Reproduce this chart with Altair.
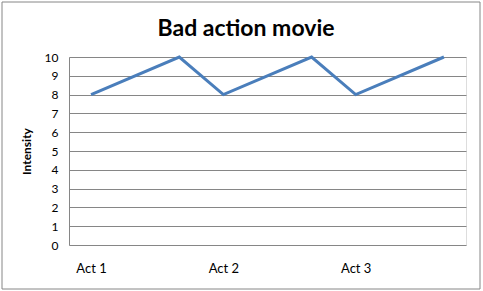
import altair as alt
import pandas as pd

# Data
positions = [0, 2, 3, 5, 6, 8]        # category slot (9 slots across the axis)
intensity = [8, 10, 8, 10, 8, 10]
tick_positions = [0, 3, 6]
tick_labels = ["Act 1", "Act 2", "Act 3"]
y_ticks = list(range(0, 11))
chart_title = "Bad action movie"

df = pd.DataFrame({"slot": positions, "Intensity": intensity})

label_map = "{" + ",".join(f"'{p}':'{l}'" for p, l in zip(tick_positions, tick_labels)) + "}"

FONT = "Lato"
GRID = "#868686"

line = alt.Chart(df).mark_line(color="#4A7EBB", strokeWidth=3, strokeJoin="miter").encode(
    x=alt.X(
        "slot:Q",
        scale=alt.Scale(domain=[-0.5, 8.5], nice=False, zero=False),
        axis=alt.Axis(
            values=tick_positions,
            labelExpr=f"{label_map}[datum.value]",
            grid=False, ticks=False, domain=False,
            labelPadding=17, labelFontSize=13, labelFont=FONT,
            labelColor="#000000", title=None,
        ),
    ),
    y=alt.Y(
        "Intensity:Q",
        scale=alt.Scale(domain=[0, 10], nice=False),
        axis=alt.Axis(
            values=y_ticks, grid=True, gridColor=GRID, gridWidth=1,
            ticks=False, domain=True, domainColor=GRID, domainWidth=1,
            labelPadding=11, labelFontSize=12, labelFont=FONT, labelColor="#000000",
            title="Intensity", titleFont=FONT, titleFontSize=12, titleFontWeight="bold",
            titleColor="#000000", titleX=-36, titleY=94,
        ),
    ),
)

border = alt.Chart(pd.DataFrame({"a": [0]})).mark_rect(
    filled=False, stroke=GRID, strokeWidth=1
).encode(
    x=alt.value(-67), x2=alt.value(411), y=alt.value(-55), y2=alt.value(232)
)

title = alt.Chart(pd.DataFrame({"t": [chart_title]})).mark_text(
    font=FONT, fontSize=23, fontWeight="bold", color="#000000",
    align="center", baseline="alphabetic",
).encode(x=alt.value(177), y=alt.value(-21), text="t:N")

chart = (border + line + title).properties(
    width=397,
    height=188,
    autosize=alt.AutoSizeParams(type="none"),
    padding={"left": 69, "top": 57, "right": 17, "bottom": 46},
).configure_view(stroke=None).configure(background="#ffffff")

chart.save("out.html", embed_options={"renderer": "svg", "actions": False})
